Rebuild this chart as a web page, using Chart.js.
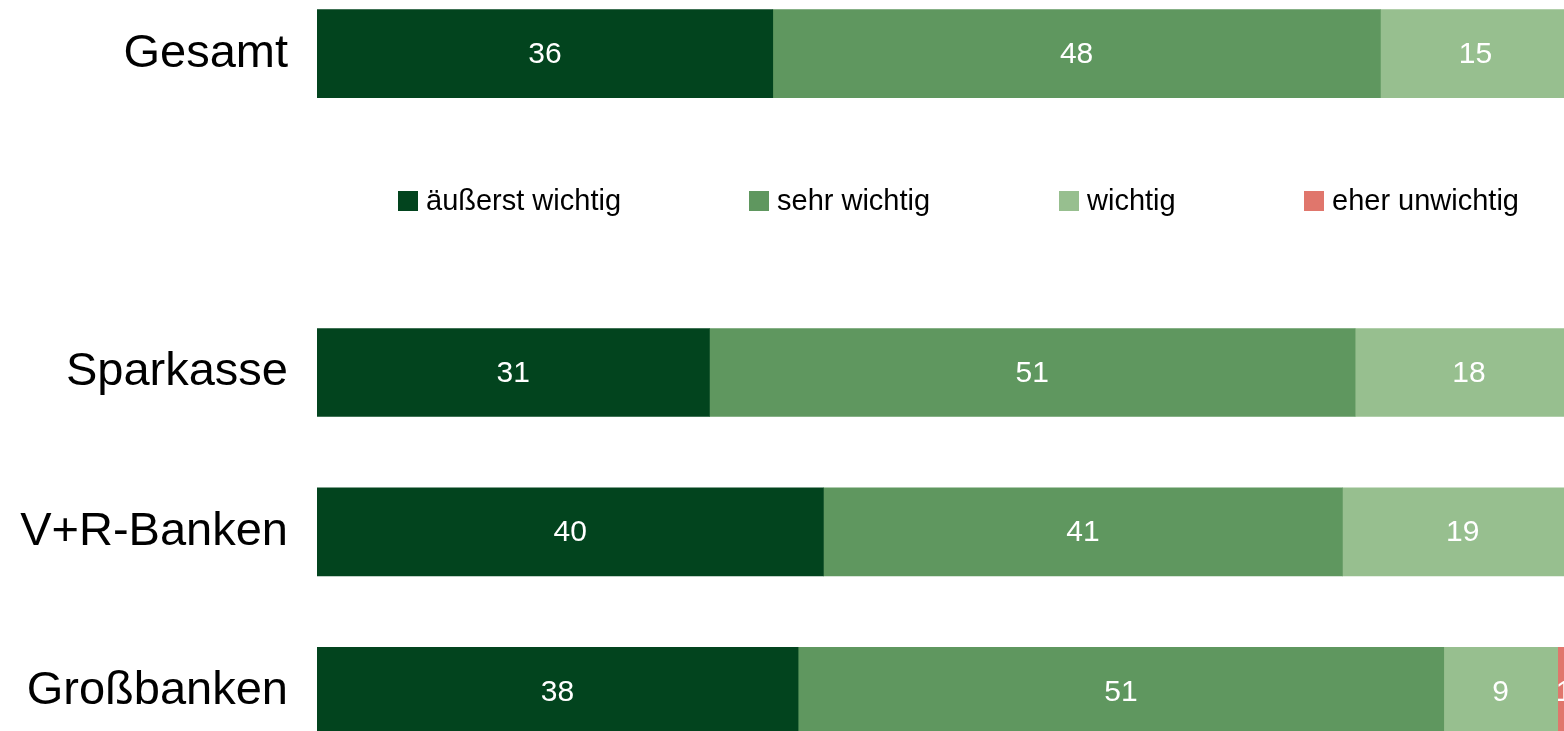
<!DOCTYPE html>
<html>
<head>
<meta charset="utf-8">
<script src="https://cdn.jsdelivr.net/npm/chart.js@4"></script>
<style>
  html, body { margin: 0; padding: 0; background: #fff; overflow: hidden; }
  #wrap { position: absolute; left: 0; top: -26px; width: 1564px; height: 797px; }
</style>
</head>
<body>
<div id="wrap"><canvas id="chart"></canvas></div>
<script>
// =======================
// Data
const categories = ['Gesamt', '', 'Sparkasse', 'V+R-Banken', 'Großbanken'];
const seriesNames = ['äußerst wichtig', 'sehr wichtig', 'wichtig', 'eher unwichtig'];
const seriesColors = ['#02441e', '#5f975f', '#97bf8f', '#e0766c'];

const aeusserstWichtig = [36, null, 31, 40, 38];
const sehrWichtig      = [48, null, 51, 41, 51];
const wichtig          = [15, null, 18, 19, 9];
const eherUnwichtig    = [1,  null, 0,  0,  1];

// =======================
// Layout bits (not data)
const FONT = '"Liberation Sans", Arial, sans-serif';
const legendX = [398, 749, 1059, 1304];
const legendY = 227; // canvas coords (canvas is shifted up 26px)

// value labels in the middle of each segment
const valueLabels = {
  id: 'valueLabels',
  afterDatasetsDraw(chart) {
    const ctx = chart.ctx;
    ctx.save();
    ctx.font = '30px ' + FONT;
    ctx.fillStyle = '#ffffff';
    ctx.textAlign = 'center';
    ctx.textBaseline = 'middle';
    chart.data.datasets.forEach((ds, di) => {
      chart.getDatasetMeta(di).data.forEach((bar, i) => {
        const v = ds.data[i];
        if (!v) return;
        const cx = (bar.x + bar.base) / 2;
        ctx.fillText(String(v), cx, bar.y + 1);
      });
    });
    ctx.restore();
  }
};

// legend drawn into the empty row
const rowLegend = {
  id: 'rowLegend',
  afterDraw(chart) {
    const ctx = chart.ctx;
    ctx.save();
    ctx.font = '29px ' + FONT;
    ctx.textBaseline = 'middle';
    ctx.textAlign = 'left';
    seriesNames.forEach((name, i) => {
      const x = legendX[i];
      ctx.fillStyle = seriesColors[i];
      ctx.fillRect(x, legendY - 10, 20, 20);
      ctx.fillStyle = '#000';
      ctx.fillText(name, x + 28, legendY + 1);
    });
    ctx.restore();
  }
};

const datasets = [aeusserstWichtig, sehrWichtig, wichtig, eherUnwichtig].map((d, i) => ({
  label: seriesNames[i],
  data: d,
  backgroundColor: seriesColors[i],
  borderWidth: 0,
  barThickness: 88
}));

new Chart(document.getElementById('chart'), {
  type: 'bar',
  data: { labels: categories, datasets: datasets },
  options: {
    indexAxis: 'y',
    responsive: true,
    maintainAspectRatio: false,
    animation: false,
    layout: { padding: 0 },
    plugins: {
      legend: { display: false },
      tooltip: { enabled: false }
    },
    scales: {
      x: {
        stacked: true,
        display: false,
        min: 0,
        max: 98.5
      },
      y: {
        stacked: true,
        grid: { display: false },
        border: { display: false },
        ticks: {
          padding: 21,
          color: '#000',
          font: { family: FONT, size: 47 }
        },
        afterFit(scale) {
          scale.width = 317;
          scale.paddingTop = 0;
          scale.paddingBottom = 0;
        }
      }
    }
  },
  plugins: [valueLabels, rowLegend]
});
</script>
</body>
</html>
